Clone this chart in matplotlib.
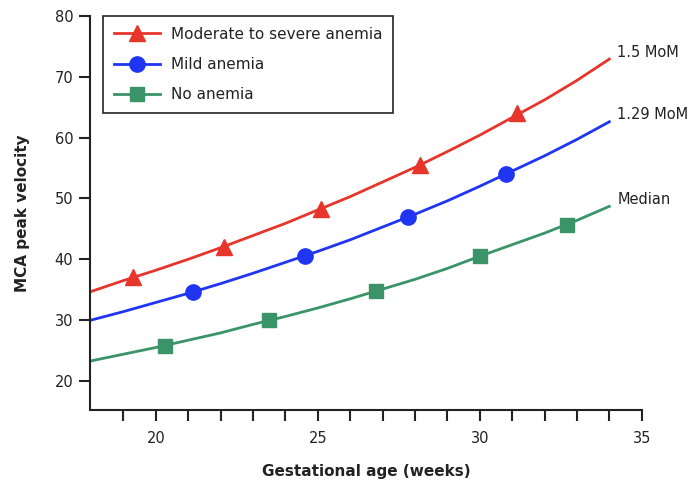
import numpy as np
import matplotlib
matplotlib.use("Agg")
import matplotlib.pyplot as plt

# line values at whole weeks
weeks = [18, 19, 20, 21, 22, 23, 24, 25, 26, 27, 28, 29, 30, 31, 32, 33, 34]
severe_line = [34.7, 36.5, 38.2, 40.0, 41.9, 43.9, 45.9, 48.1, 50.3, 52.7, 55.1, 57.7, 60.4, 63.3, 66.2, 69.4, 72.9]
mild_line = [30.0, 31.4, 32.9, 34.4, 36.0, 37.7, 39.5, 41.3, 43.2, 45.3, 47.4, 49.6, 52.0, 54.5, 57.0, 59.7, 62.6]
none_line = [23.3, 24.4, 25.5, 26.7, 27.9, 29.3, 30.6, 32.0, 33.5, 35.1, 36.7, 38.5, 40.5, 42.4, 44.3, 46.4, 48.7]

# marker positions
severe_x = [19.3, 22.1, 25.1, 28.15, 31.15]
severe_y = [37.1, 42.1, 48.3, 55.5, 64.0]
mild_x = [21.15, 24.6, 27.8, 30.8]
mild_y = [34.6, 40.6, 47.0, 54.0]
none_x = [20.3, 23.5, 26.8, 30.0, 32.7]
none_y = [25.8, 30.0, 34.8, 40.6, 45.7]

curve_names = ["1.5 MoM", "1.29 MoM", "Median"]
legend_names = ["Moderate to severe anemia", "Mild anemia", "No anemia"]

red = "#E8352B"
blue = "#1F35F2"
green = "#3A9468"
ink = "#222222"

plt.rcParams['font.family'] = ['DejaVu Sans']

fig = plt.figure(figsize=(6.94, 4.82), dpi=100)
ax = fig.add_axes([0.1297, 0.149, 0.795, 0.818])

ax.plot(weeks, severe_line, color=red, lw=2)
ax.plot(weeks, mild_line, color=blue, lw=2)
ax.plot(weeks, none_line, color=green, lw=2)
ax.plot(severe_x, severe_y, ls='none', marker='^', ms=11.5, color=red)
ax.plot(mild_x, mild_y, ls='none', marker='o', ms=11, color=blue)
ax.plot(none_x, none_y, ls='none', marker='s', ms=10.3, color=green)

# legend handles
h1, = ax.plot([], [], color=red, lw=2, marker='^', ms=11.5)
h2, = ax.plot([], [], color=blue, lw=2, marker='o', ms=11)
h3, = ax.plot([], [], color=green, lw=2, marker='s', ms=10.3)
leg = ax.legend([h1, h2, h3], legend_names, loc='upper left',
                bbox_to_anchor=(0.0236, 1.0), borderaxespad=0,
                fontsize=11, fancybox=False,
                edgecolor=ink, framealpha=1, handlelength=3.0,
                labelspacing=1.0, borderpad=0.7, handletextpad=0.75)
leg.get_frame().set_linewidth(1.2)
for t in leg.get_texts():
    t.set_color(ink)

# curve labels at the right end
ends = [severe_line[-1], mild_line[-1], none_line[-1]]
for name, v in zip(curve_names, ends):
    ax.text(34.25, v + 1.15, name, fontsize=10.5, color=ink, va='center', ha='left')

ax.set_xlim(17.97, 35)
ax.set_ylim(15.2, 80)
ax.set_xticks([20, 25, 30, 35])
ax.set_xticks(np.arange(19, 35), minor=True)
ax.set_yticks([20, 30, 40, 50, 60, 70, 80])

ax.spines['top'].set_visible(False)
ax.spines['right'].set_visible(False)
for s in ['left', 'bottom']:
    ax.spines[s].set_linewidth(1.5)
    ax.spines[s].set_color(ink)

ax.tick_params(axis='both', which='both', direction='out', length=8,
               width=1.5, color=ink, labelcolor=ink, labelsize=10.5)
ax.tick_params(axis='x', which='major', pad=7)
ax.tick_params(axis='y', pad=4)

ax.set_xlabel("Gestational age (weeks)", fontsize=11, fontweight='bold',
              color=ink, labelpad=13)
ax.set_ylabel("MCA peak velocity", fontsize=11, fontweight='bold',
              color=ink, labelpad=18)

fig.savefig("out.png", dpi=100)
